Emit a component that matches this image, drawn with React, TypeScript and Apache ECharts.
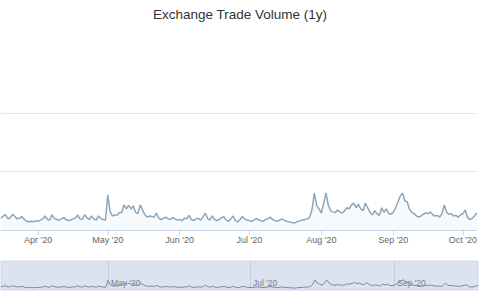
import React, { useEffect, useRef } from "react";
import * as echarts from "echarts";

const titleText = "Exchange Trade Volume (1y)";
const startDate = [2020, 2, 16]; // year, monthIndex, day (Mar 16, 2020)
const monthNames = ["Jan", "Feb", "Mar", "Apr", "May", "Jun", "Jul", "Aug", "Sep", "Oct", "Nov", "Dec"];
const mainLabelMonths = [3, 4, 5, 6, 7, 8, 9];
const navLabelMonths = [4, 6, 8];

const marchValues = [20, 24, 26, 19, 21, 27, 23, 19, 20, 23, 18, 15, 14, 15, 14, 16];
const aprilValues = [15, 17, 19, 24, 18, 17, 26, 20, 18, 17, 19, 21, 18, 16, 17, 19, 20, 26, 19, 18, 26, 21, 18, 24, 19, 17, 24, 20, 18, 17];
const mayValues = [60, 32, 24, 26, 25, 30, 30, 43, 36, 42, 36, 41, 30, 28, 43, 34, 26, 22, 24, 23, 22, 29, 20, 18, 20, 22, 19, 18, 21, 19, 17];
const juneValues = [18, 16, 20, 19, 25, 18, 16, 19, 20, 17, 22, 29, 20, 17, 24, 18, 16, 18, 21, 23, 17, 15, 19, 24, 16, 14, 18, 23, 19, 17];
const julyValues = [16, 15, 17, 20, 17, 16, 15, 18, 19, 22, 18, 16, 15, 17, 19, 17, 15, 14, 13, 12, 13, 15, 16, 17, 18, 19, 22, 35, 63, 42, 36];
const augustValues = [29, 45, 63, 43, 33, 31, 30, 34, 31, 29, 33, 38, 36, 43, 46, 38, 44, 36, 33, 46, 38, 30, 26, 33, 28, 25, 38, 30, 36, 28, 27];
const septemberValues = [30, 38, 48, 58, 63, 50, 48, 36, 30, 28, 24, 22, 24, 27, 29, 28, 31, 26, 24, 25, 22, 28, 43, 30, 27, 28, 24, 25, 22, 26];
const octoberValues = [28, 34, 22, 18, 20, 24, 29];

const volume = [
  ...marchValues,
  ...aprilValues,
  ...mayValues,
  ...juneValues,
  ...julyValues,
  ...augustValues,
  ...septemberValues,
  ...octoberValues,
];

const dates: Date[] = volume.map(
  (_, i) => new Date(startDate[0], startDate[1], startDate[2] + i)
);
const categories = dates.map(
  (d) => `${d.getFullYear()}-${d.getMonth() + 1}-${d.getDate()}`
);
const monthLabel = (d: Date) =>
  `${monthNames[d.getMonth()]} '${String(d.getFullYear()).slice(2)}`;

const isMainTick = (i: number) =>
  dates[i].getDate() === 1 && mainLabelMonths.includes(dates[i].getMonth());
const isNavTick = (i: number) =>
  dates[i].getDate() === 1 && navLabelMonths.includes(dates[i].getMonth());

export default function App() {
  const ref = useRef<HTMLDivElement>(null);
  useEffect(() => {
    if (!ref.current) return;
    const chart = echarts.init(ref.current, undefined, { renderer: "svg" });
    const font = "'Liberation Sans', Arial, Helvetica, sans-serif";
    chart.setOption({
      animation: false,
      backgroundColor: "#ffffff",
      textStyle: { fontFamily: font },
      title: {
        text: titleText,
        left: "center",
        top: 2,
        textStyle: { fontSize: 13.5, fontWeight: "normal", color: "#333333", fontFamily: font },
      },
      grid: [
        { left: 1, right: 2, top: 113, bottom: 70 },
        {
          left: 1,
          right: 2,
          top: 261,
          height: 29,
          show: true,
          backgroundColor: "#dde2ef",
          borderColor: "#cfd6e6",
          borderWidth: 1,
        },
      ],
      xAxis: [
        {
          type: "category",
          gridIndex: 0,
          data: categories,
          boundaryGap: false,
          axisLine: { lineStyle: { color: "#ccd6eb" } },
          axisTick: {
            interval: (i: number) => isMainTick(i),
            length: 5,
            lineStyle: { color: "#ccd6eb" },
          },
          axisLabel: {
            interval: (i: number) => isMainTick(i),
            formatter: (_v: string, i: number) => monthLabel(dates[i]),
            fontSize: 9,
            color: "#666666",
            margin: 5,
            fontFamily: font,
          },
          splitLine: { show: false },
        },
        {
          type: "category",
          gridIndex: 1,
          data: categories,
          boundaryGap: false,
          axisLine: { show: false },
          axisTick: { show: false },
          axisLabel: {
            inside: true,
            interval: (i: number) => isNavTick(i),
            formatter: (_v: string, i: number) => monthLabel(dates[i]),
            fontSize: 8.5,
            color: "#7a7f8c",
            align: "left",
            margin: 3,
            padding: [0, 0, 0, 3],
            fontFamily: font,
          },
          splitLine: {
            show: true,
            interval: (i: number) => isNavTick(i),
            lineStyle: { color: "#c6cde0", width: 1 },
          },
        },
      ],
      yAxis: [
        {
          type: "value",
          gridIndex: 0,
          min: 0,
          max: 200,
          interval: 100,
          axisLabel: { show: false },
          axisLine: { show: false },
          axisTick: { show: false },
          splitLine: { lineStyle: { color: "#e6e6e6" } },
        },
        {
          type: "value",
          gridIndex: 1,
          min: 0,
          max: 180,
          axisLabel: { show: false },
          axisLine: { show: false },
          axisTick: { show: false },
          splitLine: { show: false },
        },
      ],
      series: [
        {
          type: "line",
          xAxisIndex: 0,
          yAxisIndex: 0,
          data: volume,
          showSymbol: false,
          smooth: false,
          lineStyle: { color: "#8ea6b8", width: 1.5 },
          areaStyle: { color: "rgba(170,210,235,0.15)" },
        },
        {
          type: "line",
          xAxisIndex: 1,
          yAxisIndex: 1,
          data: volume,
          showSymbol: false,
          lineStyle: { color: "#7c879f", width: 1 },
        },
      ],
    });
    return () => chart.dispose();
  }, []);
  return (
    <div
      ref={ref}
      style={{ position: "fixed", left: 0, top: 0, width: 480, height: 300, background: "#fff" }}
    />
  );
}
